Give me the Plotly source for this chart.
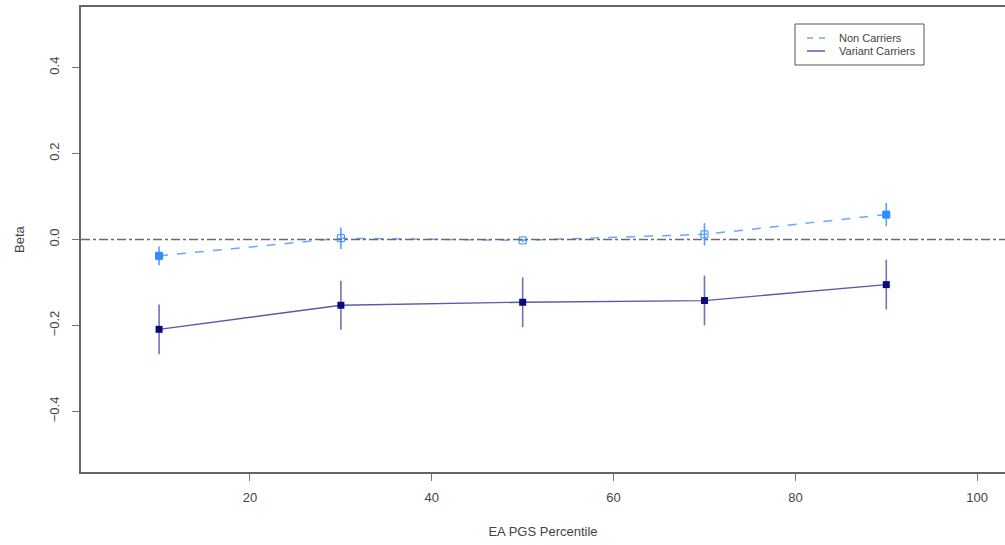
import plotly.graph_objects as go

percentile = [10, 30, 50, 70, 90]
nc_beta = [-0.038, 0.003, -0.002, 0.012, 0.058]
nc_err = [0.022, 0.025, 0.004, 0.026, 0.027]
nc_significant = [True, False, False, False, True]
vc_beta = [-0.209, -0.153, -0.146, -0.142, -0.105]
vc_err = [0.058, 0.057, 0.058, 0.058, 0.058]
x_ticks = [20, 40, 60, 80, 100]
y_ticks = [-0.4, -0.2, 0.0, 0.2, 0.4]
legend_names = ["Non Carriers", "Variant Carriers"]

NC_LINE = "#6EA6FF"
NC_MARK = "#2F8CFF"
VC_LINE = "#5A5AA8"
VC_MARK = "#0A0A80"
FONT = "Liberation Sans, Arial, sans-serif"

fig = go.Figure()

# zero reference line
fig.add_hline(y=0, line=dict(color="#6b6b6b", width=1.5, dash="dashdot"))

fig.add_trace(go.Scatter(
    x=percentile, y=vc_beta, mode="lines+markers", name=legend_names[1], showlegend=False,
    line=dict(color=VC_LINE, width=1.3),
    marker=dict(symbol="square", size=7, color=VC_MARK),
    error_y=dict(type="data", array=vc_err, visible=True, width=0,
                 color="#7272B4", thickness=1.6),
))
fig.add_trace(go.Scatter(
    x=percentile, y=nc_beta, mode="lines+markers", name=legend_names[0], showlegend=False,
    line=dict(color=NC_LINE, width=1.5, dash="dash"),
    marker=dict(symbol=["square" if s else "square-open" for s in nc_significant],
                size=7, color=NC_MARK, line=dict(color=NC_MARK, width=1)),
    error_y=dict(type="data", array=nc_err, visible=True, width=0,
                 color="#55A0FF", thickness=1.6),
))

# manual legend box (paper coords: plot area 81..1005 x, 7..472 y)
W, H = 924.0, 465.0
def px(x):
    return (x - 81) / W
def py(y):
    return (472 - y) / H

fig.add_shape(type="rect", xref="paper", yref="paper",
              x0=px(795), x1=px(924), y0=py(65), y1=py(24),
              line=dict(color="#555555", width=1), fillcolor="white", layer="above")
legend_styles = [dict(color=NC_LINE, width=1.5, dash="6px,6px"), dict(color=VC_LINE, width=1.5)]
for i, name in enumerate(legend_names):
    yy = 38 + i * 13
    fig.add_shape(type="line", xref="paper", yref="paper",
                  x0=px(807), x1=px(825), y0=py(yy), y1=py(yy),
                  line=legend_styles[i], layer="above")
    fig.add_annotation(text=name, xref="paper", yref="paper", x=px(837), y=py(yy),
                       xanchor="left", yanchor="middle", showarrow=False,
                       font=dict(size=11, color="#444444", family=FONT))

fig.update_layout(
    width=1005, height=545,
    margin=dict(l=81, r=0, t=7, b=73),
    paper_bgcolor="white", plot_bgcolor="white",
    font=dict(family=FONT, size=13, color="#444444"),
    showlegend=False,
)
fig.update_xaxes(
    range=[1.41, 103.06], tickvals=x_ticks, showgrid=False, zeroline=False,
    showline=True, linecolor="#666666", linewidth=1.5, mirror=True,
    ticks="outside", ticklen=7, tickcolor="#777777", ticklabelstandoff=6,
    title=dict(text="EA PGS Percentile", standoff=23, font=dict(size=13)),
)
fig.update_yaxes(
    range=[-0.541, 0.541], tickvals=y_ticks, tickformat=".1f", tickangle=-90,
    showgrid=False, zeroline=False,
    showline=True, linecolor="#666666", linewidth=1.5,
    ticks="outside", ticklen=7, tickcolor="#777777", ticklabelstandoff=8,
    title=dict(text="Beta", standoff=19, font=dict(size=13)),
)

fig.write_html("out.html")
